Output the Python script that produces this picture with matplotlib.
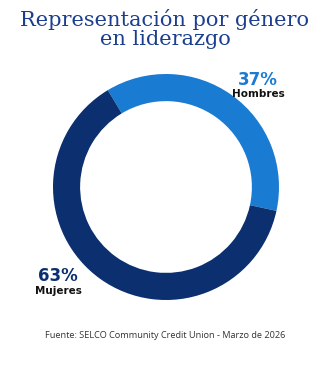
import matplotlib
matplotlib.use("Agg")
import matplotlib.pyplot as plt

categories = ["Hombres", "Mujeres"]
values = [37, 63]
colors = ["#1a7bd2", "#0b2f6f"]
title = "Representación por género\nen liderazgo"
source = "Fuente: SELCO Community Credit Union - Marzo de 2026"

W, H = 330, 367
fig = plt.figure(figsize=(W / 100, H / 100), dpi=100)
fig.patch.set_facecolor("white")

cx, cy, r = 166, 187, 113
ax = fig.add_axes([(cx - r) / W, (H - cy - r) / H, 2 * r / W, 2 * r / H])
ax.pie(values, colors=colors, startangle=121, counterclock=False, radius=1,
       wedgeprops=dict(width=0.24, linewidth=0))
ax.set_xlim(-1, 1)
ax.set_ylim(-1, 1)
ax.set_aspect("equal")
ax.axis("off")

fig.text(165 / W, 1 - 29 / H, title, ha="center", va="center", fontsize=15,
         family="DejaVu Serif", color="#1b3e8e", linespacing=1.0)

# labels
lab_pos = {"Hombres": (258, 80, 94), "Mujeres": (58, 276, 291)}
for cat, val, col in zip(categories, values, colors):
    x, y1, y2 = lab_pos[cat]
    fig.text(x / W, 1 - y1 / H, f"{val}%", ha="center", va="center",
             fontsize=12, fontweight="bold", family="Montserrat" if False else "DejaVu Sans", color=col)
    fig.text(x / W, 1 - y2 / H, cat, ha="center", va="center",
             fontsize=7.5, fontweight="bold", family="DejaVu Sans", color="#111111")

fig.text(165 / W, 1 - 336 / H, source, ha="center", va="center",
         fontsize=6.6, family="Open Sans", color="#333333")

fig.savefig("out.png", dpi=100)
